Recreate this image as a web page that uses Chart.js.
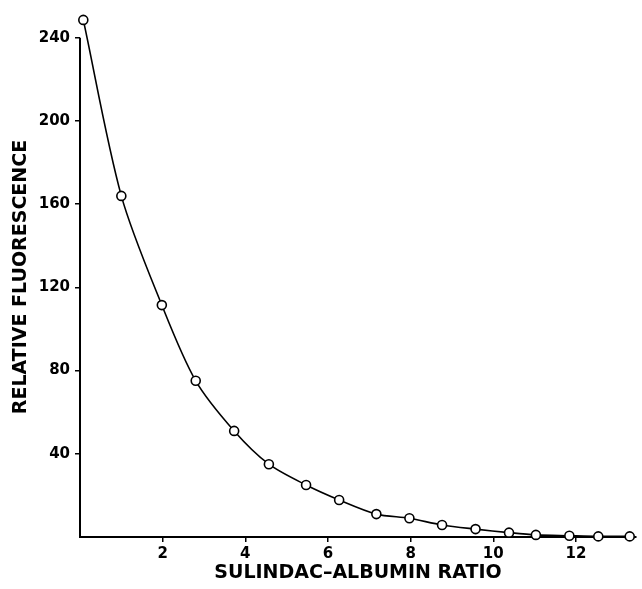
<!DOCTYPE html>
<html>
<head>
<meta charset="utf-8">
<script src="https://cdn.jsdelivr.net/npm/chart.js@4"></script>
<style>
  html, body { margin: 0; padding: 0; background: #fff; }
  #wrap { width: 642px; height: 589px; }
</style>
</head>
<body>
<div id="wrap"><canvas id="chart" width="642" height="589"></canvas></div>
<script>
// values
const ratio = [0.08, 1.0, 1.98, 2.8, 3.73, 4.57, 5.47, 6.27, 7.17, 7.97, 8.76, 9.57, 10.38, 11.03, 11.84, 12.54, 13.3];
const fluorescence = [248.6, 164, 111.5, 75.1, 51, 35, 25, 17.8, 11, 9, 5.8, 3.8, 2.1, 1.0, 0.6, 0.3, 0.3];
const yTicks = [40, 80, 120, 160, 200, 240];
const xTitle = 'SULINDAC\u2013ALBUMIN RATIO';
const yTitle = 'RELATIVE FLUORESCENCE';

const points = ratio.map((r, i) => ({ x: r, y: fluorescence[i] }));

const family = '"DejaVu Sans", "Liberation Sans", sans-serif';
const tickFont = { family: family, weight: 'bold', size: 15 };
const titleFont = { family: family, weight: 'bold', size: 19 };
const tickColor = (ctx) => (ctx.tick && ctx.tick.value === 0 ? 'rgba(0,0,0,0)' : '#000');

// the y axis line stops at the top tick, not at the top of the plot
const yAxisLine = {
    id: 'yAxisLine',
    afterDraw(chart) {
        const y = chart.scales.y, x = chart.scales.x;
        const ctx = chart.ctx;
        ctx.save();
        ctx.strokeStyle = '#000';
        ctx.lineWidth = 2;
        ctx.beginPath();
        ctx.moveTo(x.left, y.getPixelForValue(0) + 1);
        ctx.lineTo(x.left, y.getPixelForValue(yTicks[yTicks.length - 1]));
        ctx.stroke();
        ctx.restore();
    }
};

new Chart(document.getElementById('chart'), {
    type: 'line',
    data: {
        datasets: [{
            data: points,
            borderColor: '#000',
            borderWidth: 1.6,
            tension: 0.3,
            pointRadius: 4.5,
            pointBorderWidth: 1.6,
            pointBorderColor: '#000',
            pointBackgroundColor: '#fff',
            clip: false
        }]
    },
    options: {
        responsive: false,
        animation: false,
        layout: { padding: { top: 17, right: 2, left: 0, bottom: 0 } },
        plugins: { legend: { display: false }, tooltip: { enabled: false } },
        scales: {
            x: {
                type: 'linear',
                min: 0,
                max: 13.45,
                afterFit: (s) => { s.height = 52; },
                border: { color: '#000', width: 2 },
                grid: { drawOnChartArea: false, tickLength: 5, color: tickColor, lineWidth: 1.5 },
                ticks: {
                    stepSize: 2,
                    includeBounds: false,
                    maxRotation: 0,
                    padding: 3,
                    color: '#000',
                    font: tickFont,
                    callback: (v) => (v === 0 ? '' : v)
                },
                title: {
                    display: true,
                    text: xTitle,
                    color: '#000',
                    font: titleFont,
                    padding: { top: 0, bottom: 5 }
                }
            },
            y: {
                min: 0,
                max: 250,
                afterFit: (s) => { s.width = 80; },
                afterBuildTicks: (s) => { s.ticks = [0].concat(yTicks).map((v) => ({ value: v })); },
                border: { display: false },
                grid: { drawOnChartArea: false, tickLength: 5, color: tickColor, lineWidth: 1.5 },
                ticks: {
                    padding: 5,
                    color: '#000',
                    font: tickFont,
                    callback: (v) => (v === 0 ? '' : v)
                },
                title: {
                    display: true,
                    text: yTitle,
                    color: '#000',
                    font: titleFont,
                    padding: { top: 10, bottom: 0 }
                }
            }
        }
    },
    plugins: [yAxisLine]
});
</script>
</body>
</html>
